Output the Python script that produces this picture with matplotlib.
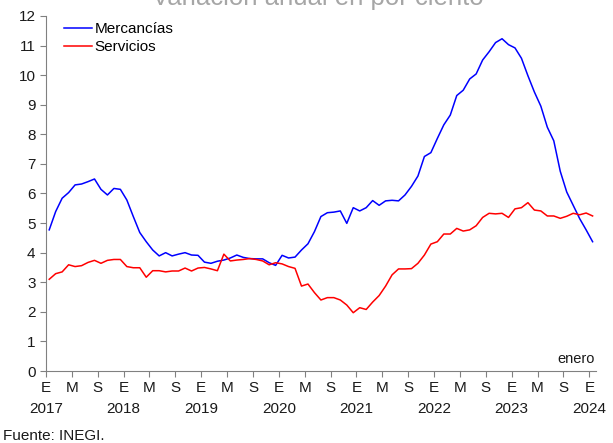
import numpy as np
import matplotlib.pyplot as plt

# monthly annual variation, Jan 2017 - Jan 2024
mercancias = [
    4.77, 5.39, 5.84, 6.03, 6.29, 6.32, 6.40, 6.49, 6.14, 5.95, 6.17, 6.14,
    5.78, 5.22, 4.68, 4.37, 4.09, 3.89, 4.00, 3.89, 3.95, 4.00, 3.92, 3.91,
    3.68, 3.64, 3.71, 3.75, 3.82, 3.92, 3.84, 3.80, 3.79, 3.79, 3.66, 3.57,
    3.91, 3.82, 3.85, 4.09, 4.30, 4.71, 5.22, 5.35, 5.37, 5.41, 4.99, 5.52,
    5.41, 5.52, 5.76, 5.60, 5.75, 5.77, 5.75, 5.95, 6.24, 6.59, 7.25, 7.38,
    7.86, 8.32, 8.65, 9.31, 9.49, 9.87, 10.04, 10.51, 10.79, 11.10, 11.23, 11.03,
    10.92, 10.57, 9.98, 9.43, 8.95, 8.24, 7.78, 6.75, 6.05, 5.60, 5.15, 4.77,
    4.37,
]
servicios = [
    3.10, 3.29, 3.35, 3.59, 3.53, 3.56, 3.67, 3.74, 3.64, 3.74, 3.77, 3.77,
    3.53, 3.49, 3.49, 3.17, 3.39, 3.39, 3.35, 3.38, 3.38, 3.48, 3.38, 3.48,
    3.50, 3.45, 3.39, 3.95, 3.72, 3.75, 3.77, 3.80, 3.77, 3.72, 3.59, 3.66,
    3.62, 3.53, 3.47, 2.87, 2.94, 2.65, 2.40, 2.48, 2.48, 2.40, 2.23,
    1.97, 2.14, 2.08, 2.33, 2.55, 2.87, 3.25, 3.45, 3.45, 3.46, 3.64, 3.92,
    4.29, 4.37, 4.63, 4.63, 4.82, 4.73, 4.77, 4.91, 5.19, 5.33, 5.31, 5.33,
    5.19, 5.48, 5.52, 5.69, 5.44, 5.41, 5.24, 5.24, 5.16, 5.23, 5.33, 5.28,
    5.34, 5.24,
]
month_letters = ["E", "M", "S"]
years = [2017, 2018, 2019, 2020, 2021, 2022, 2023, 2024]

plt.rcParams['font.family'] = ['Liberation Sans', 'DejaVu Sans']

fig = plt.figure(figsize=(6.13, 4.43), dpi=100)
ax = fig.add_axes([0.075, 0.1625, 0.897, 0.8015])

ax.plot(np.arange(len(mercancias)) + 0.5, mercancias, color='#0000ff',
        lw=1.1, label='Mercancías')
ax.plot(np.arange(len(servicios)) + 0.5, servicios, color='#ff0000',
        lw=1.1, label='Servicios')

ax.set_xlim(0, 85)
ax.set_ylim(0, 12)
ax.set_yticks(range(0, 13))

ticks = np.arange(0, 85, 4)
labels = []
for t in ticks:
    lbl = month_letters[(t // 4) % 3]
    if t % 12 == 0:
        lbl += "\n" + str(years[t // 12])
    labels.append(lbl)
ax.set_xticks(ticks)
ax.set_xticklabels(labels)
for lbl in ax.get_xticklabels():
    lbl.set_linespacing(1.65)

for side in ['top', 'right']:
    ax.spines[side].set_visible(False)
for side in ['left', 'bottom']:
    ax.spines[side].set_color('#808080')
ax.tick_params(axis='both', colors='#808080', labelcolor='#1a1a1a',
               labelsize=11, length=4, direction='out')
ax.tick_params(axis='x', pad=3)

ax.legend(loc='upper left', bbox_to_anchor=(0.022, 1.0), frameon=False,
          fontsize=11, handlelength=1.8, handletextpad=0.2,
          labelspacing=0.25, borderaxespad=0)

ax.text(0.998, 0.015, "enero", transform=ax.transAxes, ha='right',
        va='bottom', fontsize=10.5, color='#1a1a1a')

fig.text(0.518, 1 - 5 / 443, "Variación anual en por ciento", ha='center',
         va='baseline', fontsize=18.5, color='#a6a6a6')
fig.text(0.005, 0.0, "Fuente: INEGI.", ha='left', va='bottom',
         fontsize=11, color='#1a1a1a')

fig.savefig("out.png", dpi=100)
